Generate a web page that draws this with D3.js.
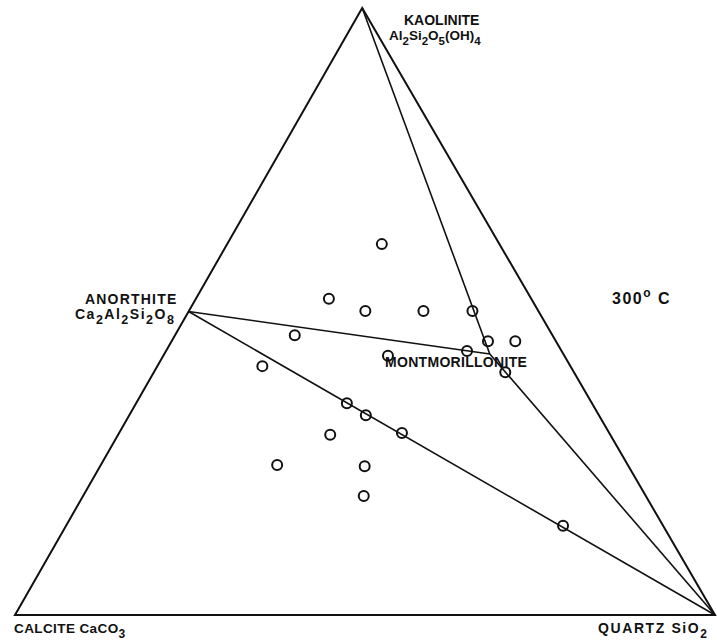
<!DOCTYPE html>
<html>
<head>
<meta charset="utf-8">
<script src="https://cdn.jsdelivr.net/npm/d3@7"></script>
<style>
  body { margin: 0; background: #fff; }
  text { font-family: "Liberation Sans", Arial, sans-serif; font-weight: bold; fill: #111; }
</style>
</head>
<body>
<svg width="717" height="643"></svg>
<script>
// sample compositions, fractions of kaolinite (top), quartz (right), calcite is the rest
var kaolinite = [0.611, 0.521, 0.501, 0.501, 0.501, 0.461, 0.451, 0.451, 0.427, 0.435,
                 0.410, 0.400, 0.349, 0.329, 0.297, 0.300, 0.247, 0.245, 0.196, 0.147];
var quartz    = [0.221, 0.190, 0.252, 0.335, 0.405, 0.171, 0.452, 0.491, 0.321, 0.430,
                 0.150, 0.502, 0.301, 0.338, 0.303, 0.404, 0.252, 0.378, 0.401, 0.710];

// mineral end members [kaolinite, quartz]
var minerals = {
  kaolinite: [1, 0],
  calcite: [0, 0],
  quartz: [0, 1],
  anorthite: [0.5, 0],
  montmorillonite: [0.43, 0.465]
};
// tie lines between minerals
var tieLines = [["anorthite", "quartz"], ["anorthite", "montmorillonite"],
                ["kaolinite", "montmorillonite"], ["montmorillonite", "quartz"]];

var svg = d3.select("svg");
var xScale = d3.scaleLinear().domain([0, 1]).range([15, 715]); // along the base
var yScale = d3.scaleLinear().domain([0, 1]).range([615, 8]);  // kaolinite height
var apex = 0.496; // top corner sits a bit left of middle in the scan

function px(k, q) { return [xScale(q + k * apex), yScale(k)]; }

// outer triangle
var tri = [px(1, 0), px(0, 0), px(0, 1)];
svg.append("path")
   .attr("d", d3.line()(tri) + "Z")
   .attr("fill", "none")
   .attr("stroke", "#111")
   .attr("stroke-width", 2)
   .attr("stroke-linejoin", "miter");

// tie lines
svg.selectAll(".tie")
   .data(tieLines)
   .enter().append("path")
   .attr("class", "tie")
   .attr("d", function(d) {
      var a = minerals[d[0]], b = minerals[d[1]];
      return d3.line()([px(a[0], a[1]), px(b[0], b[1])]);
   })
   .attr("fill", "none")
   .attr("stroke", "#111")
   .attr("stroke-width", 1.6);

// samples
svg.selectAll(".pt")
   .data(kaolinite.map(function(k, i) { return px(k, quartz[i]); }))
   .enter().append("circle")
   .attr("class", "pt")
   .attr("cx", function(d) { return d[0]; })
   .attr("cy", function(d) { return d[1]; })
   .attr("r", 5)
   .attr("fill", "none")
   .attr("stroke", "#111")
   .attr("stroke-width", 2);

// labels with subscripts: parts are [text, kind]
function label(x, y, parts, size, spacing, subSize) {
  var t = svg.append("text")
     .attr("x", x).attr("y", y)
     .attr("font-size", size)
     .attr("letter-spacing", spacing);
  parts.forEach(function(p) {
    var s = t.append("tspan").text(p[0]);
    if (p[1] == "sub") s.attr("dy", 5).attr("font-size", subSize);
    else if (p[1] == "sup") s.attr("dy", -7).attr("font-size", subSize);
    else if (p[1] == "back") s.attr("dy", -5);
    else if (p[1] == "down") s.attr("dy", 7);
  });
}

label(404, 25, [["KAOLINITE"]], 14, 0, 12);
label(389, 40, [["Al"], ["2", "sub"], ["Si", "back"], ["2", "sub"], ["O", "back"], ["5", "sub"], ["(OH)", "back"], ["4", "sub"]], 13.5, 0, 11.5);
label(85, 304, [["ANORTHITE"]], 14, 1.2, 12);
label(75, 319, [["Ca"], ["2", "sub"], ["Al", "back"], ["2", "sub"], ["Si", "back"], ["2", "sub"], ["O", "back"], ["8", "sub"]], 14, 1.5, 12.5);
label(385, 367, [["MONTMORILLONITE"]], 14, 0.3, 12);
label(612, 304, [["300"], ["o", "sup"], ["\u00a0C", "down"]], 16, 1.5, 12);
label(14, 633, [["CALCITE CaCO"], ["3", "sub"]], 13.5, 0.4, 12);
label(598, 633, [["QUARTZ SiO"], ["2", "sub"]], 14, 1.6, 12);
</script>
</body>
</html>
